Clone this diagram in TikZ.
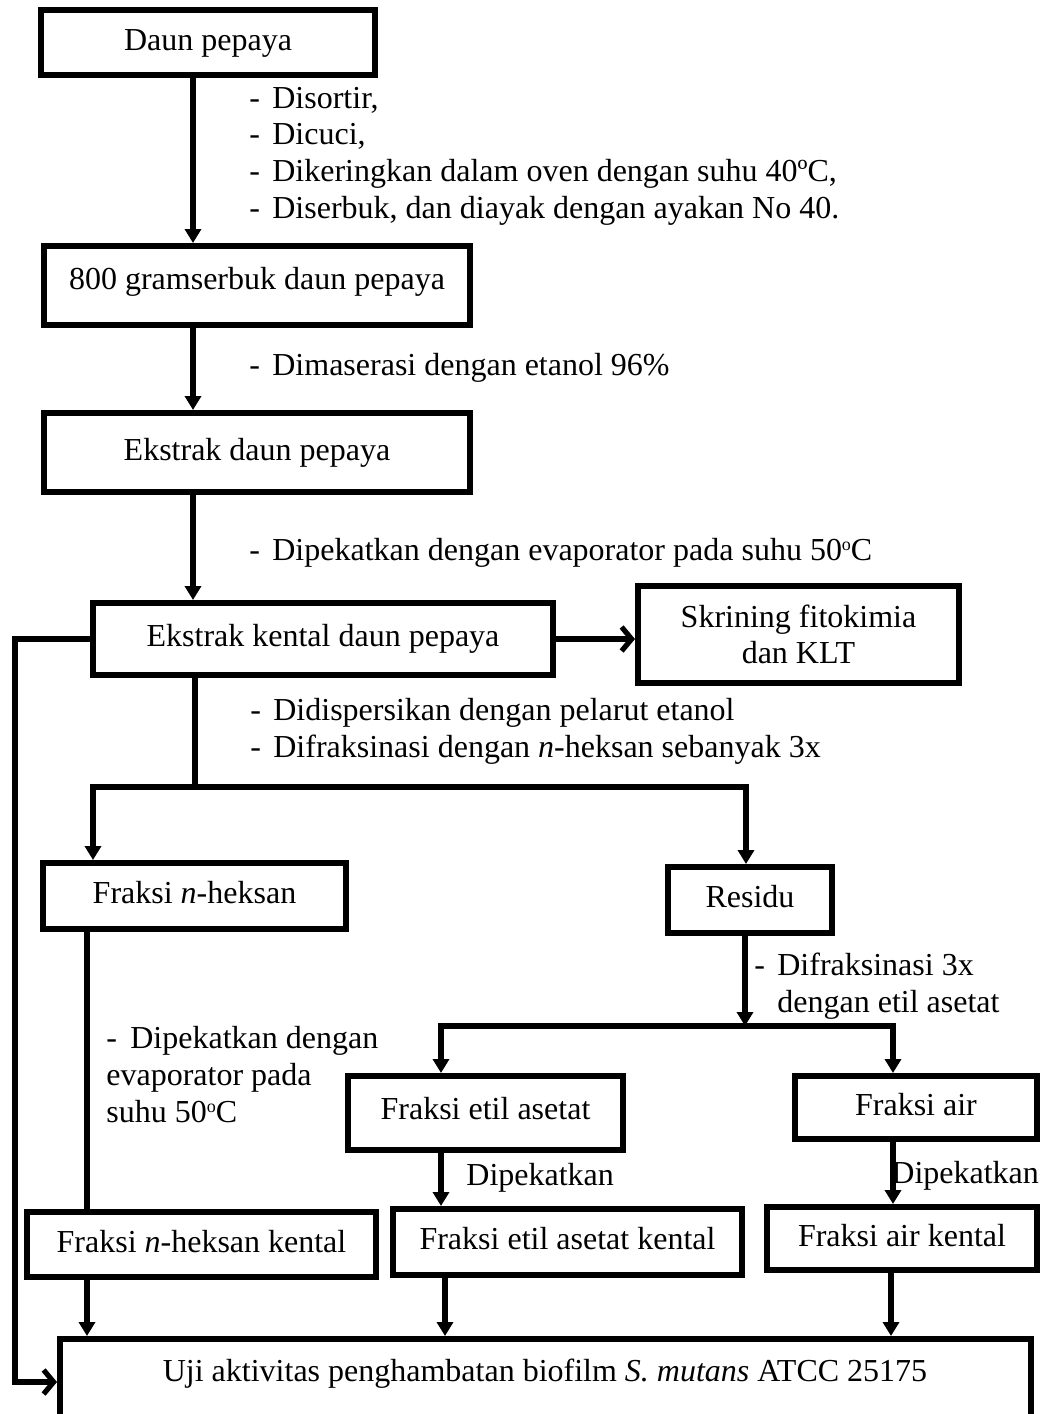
\documentclass[tikz,border=0pt]{standalone}
\usepackage{fontspec}
\setmainfont{Liberation Serif}
\usetikzlibrary{arrows.meta}
\newcommand{\dd}{\makebox[11.5pt][l]{-}}
\newcommand{\degsup}{\raisebox{5pt}{\fontsize{9}{9}\selectfont o}C}
\begin{document}
\begin{tikzpicture}[x=0.5pt,y=-0.5pt,
  every node/.style={font=\fontsize{16}{18.3}\selectfont},
  boxbase/.style={draw, line width=3pt, inner sep=0pt, align=center},
  box/.style={boxbase, text height=11pt, text depth=3.5pt},
  conn/.style={line width=2.6pt},
  arr/.style={conn, -{Triangle[length=7pt,width=8pt]}},
  barb/.style={conn, -{Straight Barb[length=5pt,width=12pt]}},
  lbl/.style={anchor=base west, align=left, inner sep=0pt}]
\useasboundingbox (0,0) rectangle (1045,1414);

% boxes
\node[box, minimum width=167pt, minimum height=32.5pt] (daun) at (208,42.5) {Daun pepaya};
\node[box, minimum width=213pt, minimum height=39.5pt, text depth=7.5pt] (serbuk) at (257,285.5) {800 gramserbuk daun pepaya};
\node[box, minimum width=213pt, minimum height=39.5pt] (ekstrak) at (257,452.5) {Ekstrak daun pepaya};
\node[box, minimum width=230pt, minimum height=36pt] (kental) at (323,639) {Ekstrak kental daun pepaya};
\node[boxbase, minimum width=160.5pt, minimum height=48.5pt] (skrining) at (798.5,634.5) {\raisebox{-2pt}{Skrining fitokimia}\\\raisebox{-2pt}{dan KLT}};
\node[box, minimum width=151.5pt, minimum height=33pt] (nhex) at (194.5,896) {Fraksi \textit{n}-heksan};
\node[box, minimum width=82pt, minimum height=33pt] (residu) at (750,900) {Residu};
\node[box, minimum width=137.5pt, minimum height=37pt, text depth=5pt] (etil) at (485.5,1113) {Fraksi etil asetat};
\node[box, minimum width=121pt, minimum height=31.5pt] (air) at (916,1107.5) {Fraksi air};
\node[box, minimum width=174.5pt, minimum height=32.5pt] (nhexk) at (201.5,1244.5) {Fraksi \textit{n}-heksan kental};
\node[box, minimum width=174.5pt, minimum height=33pt] (etilk) at (567.5,1242) {Fraksi etil asetat kental};
\node[box, minimum width=135pt, minimum height=31.5pt] (airk) at (902,1238.5) {Fraksi air kental};
\node[boxbase, minimum width=485.5pt, minimum height=70.5pt] (uji) at (545.5,1409.5) {};
\node[anchor=base, inner sep=0pt] (ujitext) at (545,1381) {Uji aktivitas penghambatan biofilm \textit{S. mutans} ATCC 25175};

% labels (base anchor = baseline of last line)
\node[lbl] (l1) at (249,218) {\dd Disortir,\\\dd Dicuci,\\\dd Dikeringkan dalam oven dengan suhu 40ºC,\\\dd Diserbuk, dan diayak dengan ayakan No 40.};
\node[lbl] (l2) at (249,375) {\dd Dimaserasi dengan etanol 96\%};
\node[lbl] (l3) at (249,560) {\dd Dipekatkan dengan evaporator pada suhu 50\degsup};
\node[lbl] (l4) at (250,757) {\dd Didispersikan dengan pelarut etanol\\\dd Difraksinasi dengan \textit{n}-heksan sebanyak 3x};
\node[lbl] (l5) at (754,1012) {\dd Difraksinasi 3x\\\hspace*{11.5pt}dengan etil asetat};
\node[lbl] (l6) at (106,1122) {\makebox[12pt][l]{-}Dipekatkan dengan\\evaporator pada\\suhu 50\degsup};
\node[lbl] (l7) at (466,1185) {Dipekatkan};
\node[lbl] (l8) at (891,1183) {Dipekatkan};

% coordinates
\coordinate (xa) at (193,0);
\coordinate (xb) at (93,0);
\coordinate (xr) at (746,0);
\coordinate (xn) at (87,0);
\coordinate (xe) at (441,0);
\coordinate (xe2) at (445,0);
\coordinate (xw) at (893,0);
\coordinate (xw2) at (891,0);
\coordinate (s1) at (195,787);
\coordinate (s2) at (745,1026);
\coordinate (lc) at (15,1382);

% connectors
\draw[arr] (daun.south -| xa) -- (serbuk.north -| xa);
\draw[arr] (serbuk.south -| xa) -- (ekstrak.north -| xa);
\draw[arr] (ekstrak.south -| xa) -- (kental.north -| xa);
\draw[barb] (kental.east) -- (kental.east -| skrining.west);
\draw[barb] (kental.west) -| (lc) -- (lc -| uji.west);
\draw[arr] (kental.south -| s1) -- (s1) -| (nhex.north -| xb);
\draw[arr] (s1) -| (residu.north -| xr);
\draw[conn] (nhex.south -| xn) -- (nhexk.north -| xn);
\draw[arr] (residu.south -| s2) -- (s2);
\draw[arr] (s2) -| (etil.north -| xe);
\draw[arr] (s2) -| (air.north -| xw);
\draw[arr] (etil.south -| xe) -- (etilk.north -| xe);
\draw[arr] (air.south -| xw) -- (airk.north -| xw);
\draw[arr] (nhexk.south -| xn) -- (uji.north -| xn);
\draw[arr] (etilk.south -| xe2) -- (uji.north -| xe2);
\draw[arr] (airk.south -| xw2) -- (uji.north -| xw2);
\end{tikzpicture}
\end{document}
